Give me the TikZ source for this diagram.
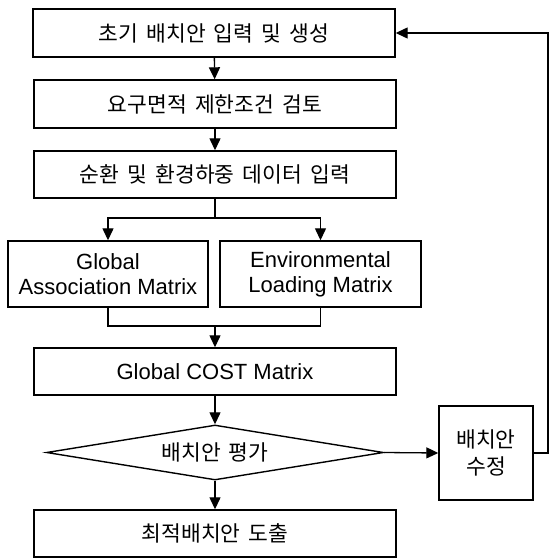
\documentclass[tikz,border=0pt]{standalone}
\usepackage{fontspec}
\setmainfont{Liberation Sans}
\newfontfamily\kr{Noto Sans CJK KR}[WordSpace=1.7]
\usetikzlibrary{shapes.geometric,arrows.meta}

\tikzset{
  box/.style={draw, line width=1.4pt, rectangle, inner sep=0pt, align=center},
  widebox/.style={box, minimum width=362pt, minimum height=47pt},
  matbox/.style={box, minimum width=200pt, minimum height=66pt},
  decision/.style={draw, line width=1.4pt, diamond, inner sep=0pt, aspect=6.1,
                   minimum width=337pt, minimum height=55pt},
  flow/.style={line width=1.3pt, -{Triangle[length=12pt,width=11pt]}},
  wire/.style={line width=1.3pt},
  krtext/.style={font=\kr\fontsize{21.5}{27}\selectfont},
  entext/.style={font=\fontsize{22}{25}\selectfont},
}

\begin{document}
\begin{tikzpicture}[x=1pt,y=-1pt]
  \useasboundingbox (0,0) rectangle (549,559);

  % main column of steps
  \node[widebox, krtext, minimum height=48pt] (init) at (214,33) {초기 배치안 입력 및 생성};
  \node[widebox, krtext, minimum height=48pt] (area) at (215,104) {요구면적 제한조건 검토};
  \node[widebox, krtext] (data) at (215,174.5) {순환 및 환경하중 데이터 입력};

  % the two matrices
  \node[matbox, entext] (gam) at (108,274) {Global\\Association Matrix};
  \node[matbox, entext, minimum width=201pt] (elm) at (320.5,274) {Environmental\\Loading Matrix};

  \node[widebox, entext] (cost) at (215,371.5) {Global COST Matrix};

  % evaluation and its outcomes
  \node[decision, krtext] (eval) at (215,452.5) {배치안 평가};
  \node[box, krtext, minimum width=94pt, minimum height=94pt] (modify) at (486,453) {배치안\\수정};
  \node[widebox, krtext] (best) at (215,533.5) {최적배치안 도출};

  % split and merge points
  \coordinate (split) at (215,218);
  \coordinate (merge) at (215,326);
  \coordinate (rim) at (548,0);

  % connectors
  \draw[flow] (init) -- (area);
  \draw[flow] (area) -- (data);
  \draw[wire] (data.south) -- (split);
  \draw[flow] (split) -| (gam.north);
  \draw[flow] (split) -| (elm.north);
  \draw[wire] (gam.south) |- (merge) -| (elm.south);
  \draw[flow] (merge) -- (cost.north);
  \draw[flow] (cost.south) -- (eval.north);
  \draw[flow] (eval.east) -- (modify.west);
  \draw[flow] (eval.south) -- (best.north);
  \draw[flow] (modify.east) -- (modify.east -| rim) |- (init.east);
\end{tikzpicture}
\end{document}
